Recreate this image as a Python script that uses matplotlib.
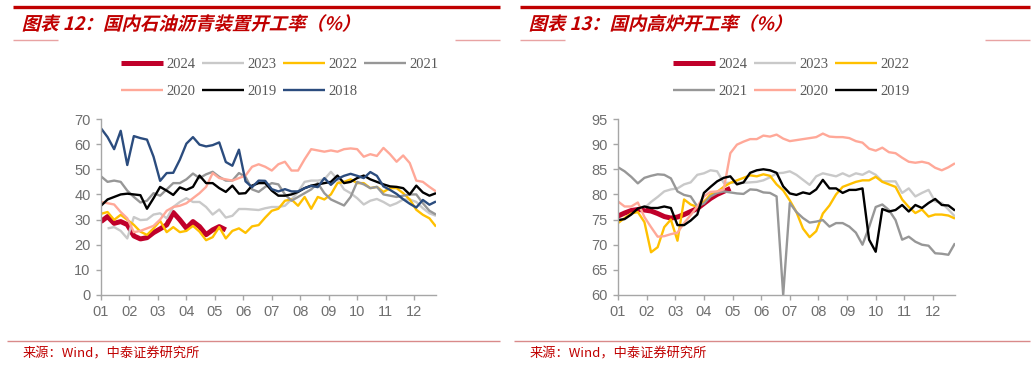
import numpy as np
import matplotlib
matplotlib.use("Agg")
import matplotlib.pyplot as plt
from matplotlib.textpath import TextPath
from matplotlib.patches import PathPatch
from matplotlib.font_manager import FontProperties
from matplotlib.transforms import Affine2D
from matplotlib.lines import Line2D

plt.rcParams['font.family'] = ['Noto Sans CJK SC', 'DejaVu Sans']

nan = np.nan

# ---- chart 12: asphalt plant operating rate (%), weekly ----
asph_2024 = [29.2, 31.2, 28.5, 29.2, 28.0, 23.5, 22.3, 22.8, 24.8, 26.3, 27.9, 32.8, 29.9, 26.6,
             29.2, 27.2, 24.0, 25.9, 27.2, 25.9]
asph_2023 = [nan, 26.5, 27.0, 25.5, 22.5, 31.0, 29.8, 30.0, 32.0, 32.5, 30.5, 35.0, 37.0, 38.5,
             37.0, 37.0, 35.0, 32.0, 34.0, 30.8, 31.5, 34.2, 34.2, 34.0, 33.8, 34.5, 35.0, 35.0,
             35.5, 38.0, 41.0, 45.0, 45.5, 45.5, 46.0, 49.0, 46.0, 42.0, 40.5, 38.5, 36.0, 37.5,
             38.2, 37.0, 35.5, 36.5, 38.0, 38.0, 37.0, 34.5, 32.5, 31.5]
asph_2022 = [32.3, 33.0, 29.9, 31.9, 29.9, 27.9, 25.2, 23.9, 26.5, 29.5, 25.0, 27.0, 25.0, 25.5,
             27.5, 25.2, 21.8, 23.0, 27.0, 22.5, 25.5, 26.5, 24.7, 27.3, 27.8, 30.8, 33.5, 34.3,
             37.5, 38.0, 35.5, 39.0, 34.3, 39.0, 38.0, 40.0, 44.5, 45.0, 46.0, 44.5, 44.5, 42.5,
             43.0, 41.0, 42.5, 42.5, 40.5, 38.0, 33.9, 31.9, 30.5, 27.2]
asph_2021 = [47.2, 45.0, 45.5, 45.0, 41.5, 39.0, 36.8, 37.5, 40.5, 39.5, 42.0, 44.5, 44.5, 46.0,
             48.3, 46.5, 48.0, 49.0, 47.0, 45.5, 45.5, 48.5, 47.0, 42.0, 41.0, 43.0, 44.5, 44.0,
             40.0, 37.5, 39.0, 40.5, 42.0, 44.5, 40.5, 38.0, 36.8, 35.6, 39.0, 45.0, 44.0, 42.5,
             43.0, 40.0, 39.5, 39.0, 39.5, 40.0, 40.0, 36.5, 33.5, 32.0]
asph_2020 = [37.0, 36.5, 36.0, 33.0, 30.5, 25.0, 25.5, 26.5, 27.5, 30.0, 33.5, 35.0, 35.5, 36.5,
             38.5, 40.5, 43.0, 48.5, 46.5, 46.0, 45.5, 46.5, 47.5, 51.0, 52.0, 51.0, 49.5, 52.0,
             53.0, 49.5, 49.5, 54.0, 58.0, 57.5, 57.0, 57.5, 57.0, 58.0, 58.3, 58.0, 55.0, 56.0,
             55.3, 58.5, 56.0, 53.0, 55.5, 52.5, 45.5, 45.0, 43.0, 41.2]
asph_2019 = [35.5, 38.0, 39.0, 40.0, 40.3, 40.0, 39.7, 34.3, 38.5, 43.0, 41.5, 39.8, 42.8, 41.8,
             43.0, 47.5, 44.5, 44.5, 42.5, 41.0, 43.5, 40.3, 40.5, 43.5, 44.5, 44.5, 41.5, 39.5,
             39.5, 40.0, 41.0, 42.5, 43.5, 44.0, 44.5, 45.0, 47.5, 44.5, 45.0, 46.5, 47.5, 46.0,
             45.0, 44.0, 43.2, 43.0, 42.5, 40.0, 43.5, 40.8, 39.5, 40.5]
asph_2018 = [66.3, 62.8, 58.0, 65.3, 51.7, 63.2, 62.4, 61.8, 55.0, 45.4, 48.5, 48.6, 53.8, 60.2,
             62.8, 59.8, 59.1, 59.6, 60.7, 52.9, 51.4, 57.8, 45.2, 42.9, 45.5, 45.4, 42.1, 41.2,
             42.1, 41.2, 41.2, 42.5, 43.4, 42.9, 46.5, 43.8, 46.2, 47.4, 48.2, 47.4, 46.5, 48.9,
             47.4, 43.2, 41.8, 40.2, 38.1, 36.3, 34.8, 37.8, 35.9, 37.2]

# ---- chart 13: blast furnace operating rate (%), weekly ----
bf_2024 = [75.7, 76.3, 76.8, 77.0, 76.9, 76.7, 76.2, 75.6, 75.3, 75.5, 76.0, 76.6, 77.2, 78.2,
           79.2, 80.0, 80.6, 81.2]
bf_2023 = [nan, nan, nan, nan, 77.3, 78.5, 79.5, 80.6, 81.0, 81.2, 82.0, 82.4, 83.9, 84.2,
           84.8, 84.6, 82.3, 82.3, 82.3, 82.3, 82.4, 82.5, 82.8, 83.4, 84.2, 84.3, 84.6, 83.9,
           82.9, 81.9, 83.6, 84.2, 83.9, 83.6, 84.2, 83.6, 84.2, 83.9, 84.6, 83.9, 82.6, 82.6,
           82.6, 80.3, 81.2, 79.6, 80.3, 80.9, 78.6, 78.3, 77.0, 75.6]
bf_2022 = [74.3, 75.3, 76.2, 76.5, 74.5, 68.5, 69.5, 73.5, 75.0, 70.8, 79.0, 78.0, 77.5, 78.5,
           80.0, 80.5, 81.5, 82.3, 82.8, 83.3, 83.8, 83.6, 84.0, 83.7, 82.0, 80.8, 78.8, 76.5,
           73.2, 71.5, 72.7, 76.2, 77.8, 80.0, 81.5, 82.0, 82.5, 82.8, 82.8, 83.5, 82.5, 82.0,
           81.5, 79.0, 77.5, 76.3, 77.0, 75.6, 76.0, 76.0, 75.8, 75.2]
bf_2021 = [85.4, 84.6, 83.5, 82.2, 83.3, 83.7, 84.0, 83.9, 83.2, 80.6, 79.9, 79.6, 77.6, 78.2,
           79.6, 80.3, 80.6, 80.4, 80.2, 80.1, 81.0, 80.9, 80.4, 80.3, 79.6, 60.0, 78.3, 76.5,
           75.3, 74.4, 74.6, 74.9, 73.6, 74.3, 74.3, 73.6, 72.4, 70.0, 73.5, 77.5, 78.0, 76.9,
           74.9, 71.0, 71.6, 70.6, 70.0, 69.8, 68.3, 68.2, 68.0, 70.3]
bf_2020 = [78.6, 77.6, 77.6, 78.4, 75.5, 73.5, 71.6, 71.7, 72.1, 72.4, 74.3, 75.9, 77.6, 79.6,
           80.5, 80.6, 81.0, 88.2, 89.9, 90.5, 91.0, 91.0, 91.7, 91.5, 91.9, 91.1, 90.6, 90.8,
           91.0, 91.2, 91.4, 92.1, 91.5, 91.4, 91.4, 91.2, 90.6, 90.3, 89.1, 88.7, 89.3, 88.4,
           88.2, 87.3, 86.5, 86.3, 86.5, 86.2, 85.3, 84.8, 85.4, 86.2]
bf_2019 = [74.9, 75.1, 76.0, 77.2, 77.6, 77.3, 77.3, 77.6, 77.3, 73.9, 73.9, 74.8, 76.0, 80.3,
           81.5, 82.6, 83.3, 83.6, 82.0, 82.4, 84.3, 84.8, 85.0, 84.8, 84.3, 81.6, 80.2, 79.9,
           80.4, 80.1, 81.0, 82.9, 81.2, 81.2, 80.3, 80.9, 80.9, 81.2, 71.0, 68.6, 77.1, 76.6,
           76.9, 77.9, 76.6, 77.9, 77.3, 78.3, 79.1, 77.9, 77.8, 76.8]

month_labels = ["01", "02", "03", "04", "05", "06", "07", "08", "09", "10", "11", "12"]

RED = "#C00000"
GRID_GRAY = "#A6A6A6"
TXT_GRAY = "#6E6E6E"
styles = {
    "2024": ("#C0002A", 3.6),
    "2023": ("#C9C9C9", 1.7),
    "2022": ("#FFC000", 1.7),
    "2021": ("#979797", 1.7),
    "2020": ("#FFA898", 1.7),
    "2019": ("#000000", 1.7),
    "2018": ("#2B4C7E", 1.7),
}

W, H = 1035, 368
fig = plt.figure(figsize=(W / 100, H / 100), dpi=100)
fig.patch.set_facecolor("white")


def fx(px):
    return px / W


def fy(py):
    return 1 - py / H


def hline(x0, x1, y, color, lw):
    fig.add_artist(Line2D([fx(x0), fx(x1)], [fy(y), fy(y)], color=color, lw=lw,
                          transform=fig.transFigure, solid_capstyle="butt"))


def slanted_title(text, x0, y_base, width_px):
    prop = FontProperties(family="Noto Sans CJK SC", weight="bold")
    tp = TextPath((0, 0), text, size=20, prop=prop)
    bb = tp.get_extents()
    s = width_px / bb.width
    tr = (Affine2D().translate(-bb.x0, 0).skew_deg(14, 0).scale(s / W, s / H)
          .translate(fx(x0), fy(y_base)) + fig.transFigure)
    fig.add_artist(PathPatch(tp, transform=tr, facecolor=RED, edgecolor="none"))


def panel(ax, series, ymin, ymax, ystep, title, title_w, x_left, x_right, leg_ncol, leg_x):
    nweeks = 52
    handles = {}
    for name, vals in series:
        col, lw = styles[name]
        v = np.array(vals, dtype=float)
        ln, = ax.plot(np.arange(len(v)), v, color=col, lw=lw, label=name,
                      solid_joinstyle="round", solid_capstyle="butt")
        handles[name] = ln
    ax.set_xlim(0, nweeks - 1)
    ax.set_ylim(ymin, ymax)
    ax.set_yticks(np.arange(ymin, ymax + 0.1, ystep))
    ax.set_xticks(np.arange(12) * nweeks / 12)
    ax.set_xticklabels(month_labels)
    for s in ["top", "right"]:
        ax.spines[s].set_visible(False)
    for s in ["left", "bottom"]:
        ax.spines[s].set_color(GRID_GRAY)
        ax.spines[s].set_linewidth(1.0)
    ax.tick_params(axis="both", colors=GRID_GRAY, length=3.5, width=1.0, direction="out",
                   labelcolor=TXT_GRAY, labelsize=10.5, pad=4)
    for lab in ax.get_xticklabels() + ax.get_yticklabels():
        lab.set_family(["Liberation Sans", "DejaVu Sans"])
    ax.set_facecolor("none")

    # legend fills column by column, so reorder to read row by row
    names = [n for n, _ in series]
    rows = [names[i:i + leg_ncol] for i in range(0, len(names), leg_ncol)]
    order = [r[c] for c in range(leg_ncol) for r in rows if c < len(r)]
    leg = ax.legend([handles[n] for n in order], order, ncol=leg_ncol, loc="upper left",
                    bbox_to_anchor=(leg_x, fy(58)), bbox_transform=fig.transFigure,
                    frameon=False,
                    prop={"family": ["Liberation Serif", "DejaVu Serif"], "size": 10.5},
                    handlelength=2.9, handletextpad=0.2, columnspacing=0.45,
                    labelspacing=0.95, borderpad=0, borderaxespad=0)
    for t in leg.get_texts():
        t.set_color("#595959")

    # frame decorations
    hline(x_left, x_right, 6.5, RED, 2.4)
    hline(x_left, x_left + 45, 40, "#E8A3A3", 1.0)
    hline(x_right - 45, x_right, 40, "#E8A3A3", 1.0)
    slanted_title(title, x_left + 10, 30, title_w)
    hline(x_left - 6, x_right, 341, "#D98A8A", 1.0)
    fig.text(fx(x_left + 10), fy(354), "来源：Wind，中泰证券研究所", color=RED, fontsize=9.5,
             va="center", ha="left")


ax1 = fig.add_axes([fx(101), fy(295), fx(436) - fx(101), fy(119) - fy(295)])
panel(ax1, [("2024", asph_2024), ("2023", asph_2023), ("2022", asph_2022), ("2021", asph_2021),
            ("2020", asph_2020), ("2019", asph_2019), ("2018", asph_2018)],
      0, 70, 10, "图表 12：国内石油沥青装置开工率（%）", 325, 13, 500, 4, fx(121))

ax2 = fig.add_axes([fx(618), fy(295), fx(955) - fx(618), fy(119) - fy(295)])
panel(ax2, [("2024", bf_2024), ("2023", bf_2023), ("2022", bf_2022), ("2021", bf_2021),
            ("2020", bf_2020), ("2019", bf_2019)],
      60, 95, 5, "图表 13：国内高炉开工率（%）", 250, 520, 1030, 3, fx(673))

fig.savefig("out.png", dpi=100, facecolor="white")
